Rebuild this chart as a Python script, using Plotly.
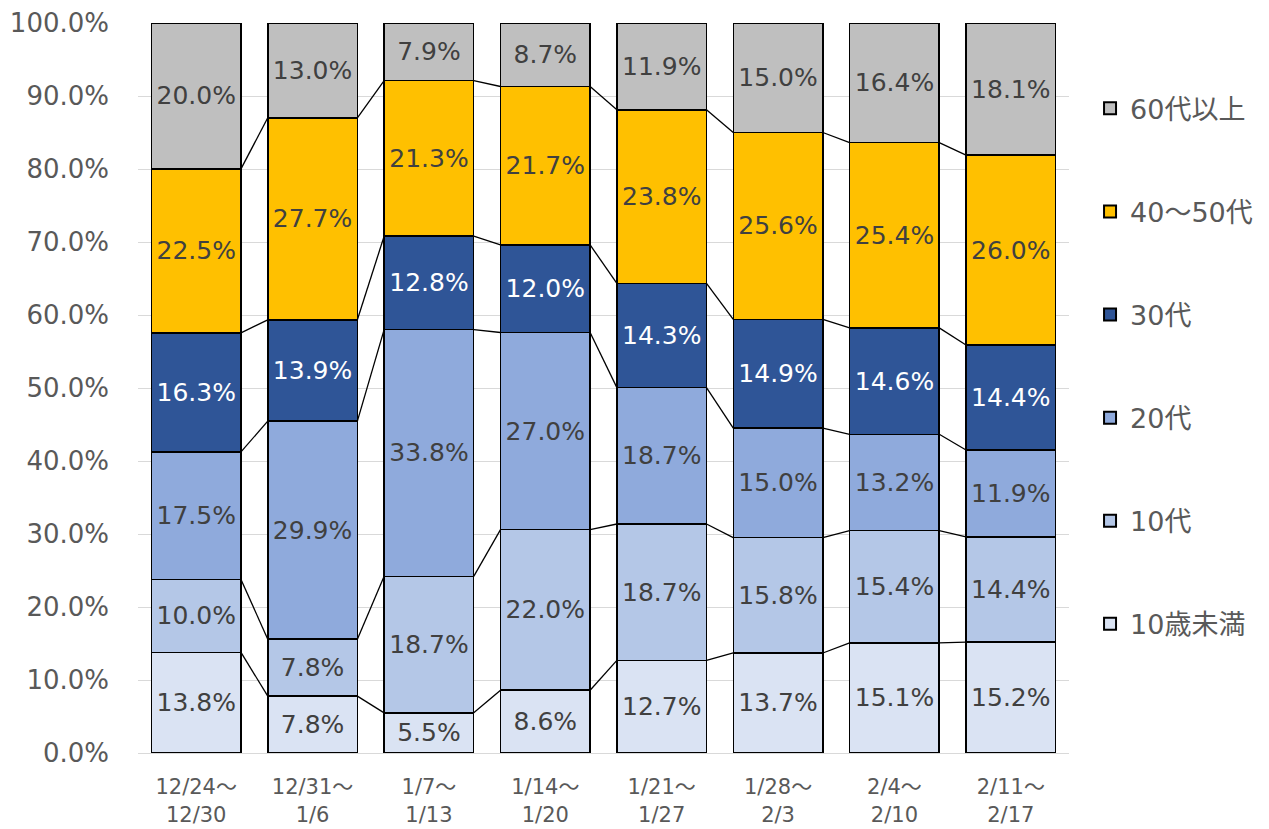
import plotly.graph_objects as go

cat_start = ["12/24～", "12/31～", "1/7～", "1/14～", "1/21～", "1/28～", "2/4～", "2/11～"]
cat_end = ["12/30", "1/6", "1/13", "1/20", "1/27", "2/3", "2/10", "2/17"]

series_names = ["10歳未満", "10代", "20代", "30代", "40～50代", "60代以上"]
under10 = [13.8, 7.8, 5.5, 8.6, 12.7, 13.7, 15.1, 15.2]
teens = [10.0, 7.8, 18.7, 22.0, 18.7, 15.8, 15.4, 14.4]
twenties = [17.5, 29.9, 33.8, 27.0, 18.7, 15.0, 13.2, 11.9]
thirties = [16.3, 13.9, 12.8, 12.0, 14.3, 14.9, 14.6, 14.4]
forties_fifties = [22.5, 27.7, 21.3, 21.7, 23.8, 25.6, 25.4, 26.0]
sixties_plus = [20.0, 13.0, 7.9, 8.7, 11.9, 15.0, 16.4, 18.1]

all_series = [under10, teens, twenties, thirties, forties_fifties, sixties_plus]
colors = ["#DAE3F3", "#B4C7E7", "#8FAADC", "#2F5597", "#FFC000", "#BFBFBF"]
text_colors = ["#404040", "#404040", "#404040", "#FFFFFF", "#404040", "#404040"]

FONT = "DejaVu Sans, Noto Sans CJK JP, sans-serif"
BAR_W = 0.77
n = len(cat_start)
xs = list(range(n))
totals = [sum(s[i] for s in all_series) for i in range(n)]

fig = go.Figure()
for k, (name, vals) in enumerate(zip(series_names, all_series)):
    fig.add_trace(go.Bar(
        x=xs, y=vals, name=name, width=BAR_W,
        marker=dict(color=colors[k], line=dict(color="#000000", width=1.5)),
        text=[f"{v:.1f}%" for v in vals],
        textposition="inside", insidetextanchor="middle",
        constraintext="none",
        textfont=dict(family=FONT, size=25, color=text_colors[k]),
        legendgroup=name, legendrank=100 - k, hoverinfo="skip",
    ))

# series lines connecting cumulative boundaries between adjacent bars
lx, ly = [], []
cum = [0.0] * n
for k, vals in enumerate(all_series[:-1]):
    cum = [cum[i] + vals[i] for i in range(n)]
    norm = [cum[i] / totals[i] * 100 for i in range(n)]
    for i in range(n - 1):
        lx += [i + BAR_W / 2, i + 1 - BAR_W / 2, None]
        ly += [norm[i], norm[i + 1], None]
fig.add_trace(go.Scatter(x=lx, y=ly, mode="lines", line=dict(color="#000000", width=1.3),
                         showlegend=False, hoverinfo="skip"))

# invisible trace to carry the second line of category labels
fig.add_trace(go.Scatter(x=xs, y=[0] * n, xaxis="x2", mode="markers",
                         marker=dict(opacity=0), showlegend=False, hoverinfo="skip"))

fig.update_layout(
    barmode="stack", barnorm="percent",
    width=1261, height=821,
    margin=dict(l=130, r=200, t=15, b=76, autoexpand=False),
    plot_bgcolor="white", paper_bgcolor="white",
    font=dict(family=FONT, color="#595959"),
    legend=dict(traceorder="grouped", tracegroupgap=65,
                x=1.0226, xanchor="left", y=0.916, yanchor="top",
                font=dict(size=27, color="#595959", family=FONT),
                itemsizing="constant"),
    showlegend=True,
    xaxis2=dict(overlaying="x", side="bottom", anchor="y", range=[-0.5, n - 0.5],
                tickvals=xs, ticktext=cat_end, showgrid=False, zeroline=False,
                showline=False, automargin=False, ticks="",
                tickfont=dict(size=21, color="#595959", family=FONT),
                ticklabelstandoff=47),
)
fig.update_yaxes(range=[0, 100], tickvals=[i * 10 for i in range(11)],
                 ticktext=[f"{i * 10:.1f}%" for i in range(11)],
                 showgrid=True, gridcolor="#D9D9D9", gridwidth=1,
                 zeroline=False, showline=False, automargin=False,
                 tickfont=dict(size=26, color="#595959", family=FONT),
                 ticklabelstandoff=28)
fig.update_layout(xaxis=dict(range=[-0.5, n - 0.5], tickvals=xs, ticktext=cat_start,
                             showgrid=False, zeroline=False, automargin=False,
                             showline=True, linecolor="#D9D9D9", linewidth=1,
                             tickfont=dict(size=21, color="#595959", family=FONT),
                             ticklabelstandoff=15))

fig.write_html("out.html")
